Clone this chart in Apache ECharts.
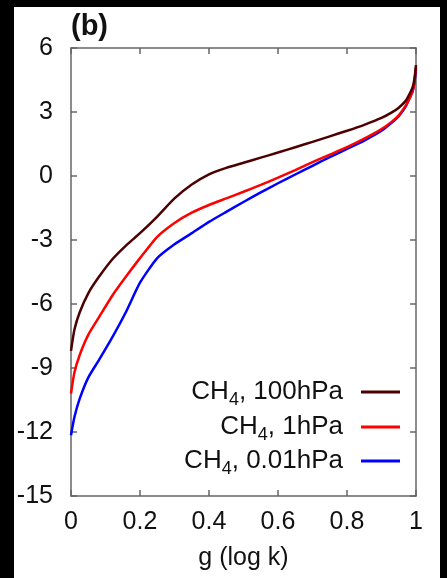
<!DOCTYPE html>
<html>
<head>
<meta charset="utf-8">
<script src="https://cdn.jsdelivr.net/npm/echarts@6/dist/echarts.min.js"></script>
<style>
html,body{margin:0;padding:0;background:#000;width:447px;height:578px;overflow:hidden;}
#paper{position:absolute;left:14px;top:7px;width:426px;height:571px;background:#fff;}
#chart{position:absolute;left:0;top:0;width:447px;height:578px;}
</style>
</head>
<body>
<div id="paper"></div>
<div id="chart"></div>
<script>
const gValues = [0, 0.01, 0.025, 0.05, 0.08, 0.12, 0.16, 0.2, 0.25, 0.3, 0.35, 0.4, 0.45, 0.5, 0.55, 0.6, 0.65, 0.7, 0.75, 0.8, 0.85, 0.9, 0.93, 0.95, 0.97, 0.98, 0.99, 0.995, 1];
const ch4_100hPa = [-8.2, -7.2, -6.4, -5.5, -4.75, -3.9, -3.25, -2.68, -1.9, -1.05, -0.4, 0.08, 0.38, 0.62, 0.86, 1.1, 1.35, 1.6, 1.86, 2.12, 2.4, 2.72, 2.98, 3.2, 3.52, 3.8, 4.15, 4.5, 5.2];
const ch4_1hPa = [-10.2, -9.2, -8.4, -7.45, -6.65, -5.6, -4.7, -3.85, -2.85, -2.2, -1.72, -1.36, -1.05, -0.74, -0.42, -0.08, 0.28, 0.65, 1.0, 1.35, 1.75, 2.2, 2.55, 2.85, 3.3, 3.6, 3.95, 4.35, 5.1];
const ch4_001hPa = [-12.15, -11.3, -10.45, -9.45, -8.65, -7.55, -6.35, -5.0, -3.85, -3.2, -2.68, -2.15, -1.68, -1.22, -0.77, -0.34, 0.07, 0.48, 0.88, 1.27, 1.66, 2.12, 2.5, 2.8, 3.25, 3.6, 3.95, 4.35, 5.0];
const seriesNames = ['100hPa', '1hPa', '0.01hPa'];
const seriesColors = ['#4d0000', '#ff0000', '#0000ff'];
const xTicks = [0, 0.2, 0.4, 0.6, 0.8, 1];
const yTicks = [-15, -12, -9, -6, -3, 0, 3, 6];

const pair = arr => gValues.map((g, i) => [g, arr[i]]);
const allVals = [ch4_100hPa, ch4_1hPa, ch4_001hPa];

const font = 'Liberation Sans, Arial, sans-serif';
const axisColor = '#666';
const legendTops = [379, 414, 448];

const chart = echarts.init(document.getElementById('chart'), null, {renderer: 'canvas'});
const baseAxis = {
  axisLine: {show: true, onZero: false, lineStyle: {color: axisColor, width: 1.5}},
  axisTick: {show: true, inside: true, length: 6, lineStyle: {color: axisColor, width: 1.5}},
  splitLine: {show: false}
};
chart.setOption({
  animation: false,
  grid: {left: 71, top: 48, width: 345, height: 448, containLabel: false},
  title: {text: '(b)', left: 71, top: 12, padding: 0, textStyle: {fontFamily: font, fontSize: 29, fontWeight: 'bold', color: '#111'}},
  xAxis: [
    Object.assign({}, baseAxis, {
      type: 'value', min: 0, max: 1, interval: 0.2, position: 'bottom',
      name: 'g (log k)', nameLocation: 'middle', nameGap: 50,
      nameTextStyle: {fontFamily: font, fontSize: 25, color: '#111'},
      axisLabel: {margin: 14, fontFamily: font, fontSize: 25, color: '#111',
        formatter: v => { const t = xTicks.find(x => Math.abs(x - v) < 1e-9); return t === undefined ? '' : String(t); }}
    }),
    Object.assign({}, baseAxis, {
      type: 'value', min: 0, max: 1, interval: 0.2, position: 'top', axisLabel: {show: false}
    })
  ],
  yAxis: [
    Object.assign({}, baseAxis, {
      type: 'value', min: -15, max: 6, interval: 3, position: 'left',
      axisLabel: {margin: 18, fontFamily: font, fontSize: 25, color: '#111',
        formatter: v => { const t = yTicks.find(y => Math.abs(y - v) < 1e-9); return t === undefined ? '' : String(t); }}
    }),
    Object.assign({}, baseAxis, {
      type: 'value', min: -15, max: 6, interval: 3, position: 'right', axisLabel: {show: false}
    })
  ],
  legend: seriesNames.map((n, i) => ({
    data: [n],
    orient: 'vertical',
    align: 'right',
    right: 47,
    top: legendTops[i],
    padding: 0,
    icon: 'rect',
    itemWidth: 39,
    itemHeight: 3,
    textStyle: {
      fontFamily: font, fontSize: 26, color: '#111',
      rich: {
        a: {fontFamily: font, fontSize: 26, color: '#111', lineHeight: 34},
        s: {fontFamily: font, fontSize: 18, color: '#111', lineHeight: 13, verticalAlign: 'bottom'},
        t: {fontFamily: font, fontSize: 26, color: '#111', lineHeight: 34, padding: [0, 13, 0, 0]}
      }
    },
    formatter: name => '{a|CH}{s|4}{t|, ' + name + '}'
  })),
  series: seriesNames.map((n, i) => ({
    name: n,
    type: 'line',
    data: pair(allVals[i]),
    showSymbol: false,
    smooth: 0.2,
    clip: true,
    lineStyle: {color: seriesColors[i], width: 2.5},
    itemStyle: {color: seriesColors[i]},
    z: 5 - i
  }))
});
</script>
</body>
</html>
